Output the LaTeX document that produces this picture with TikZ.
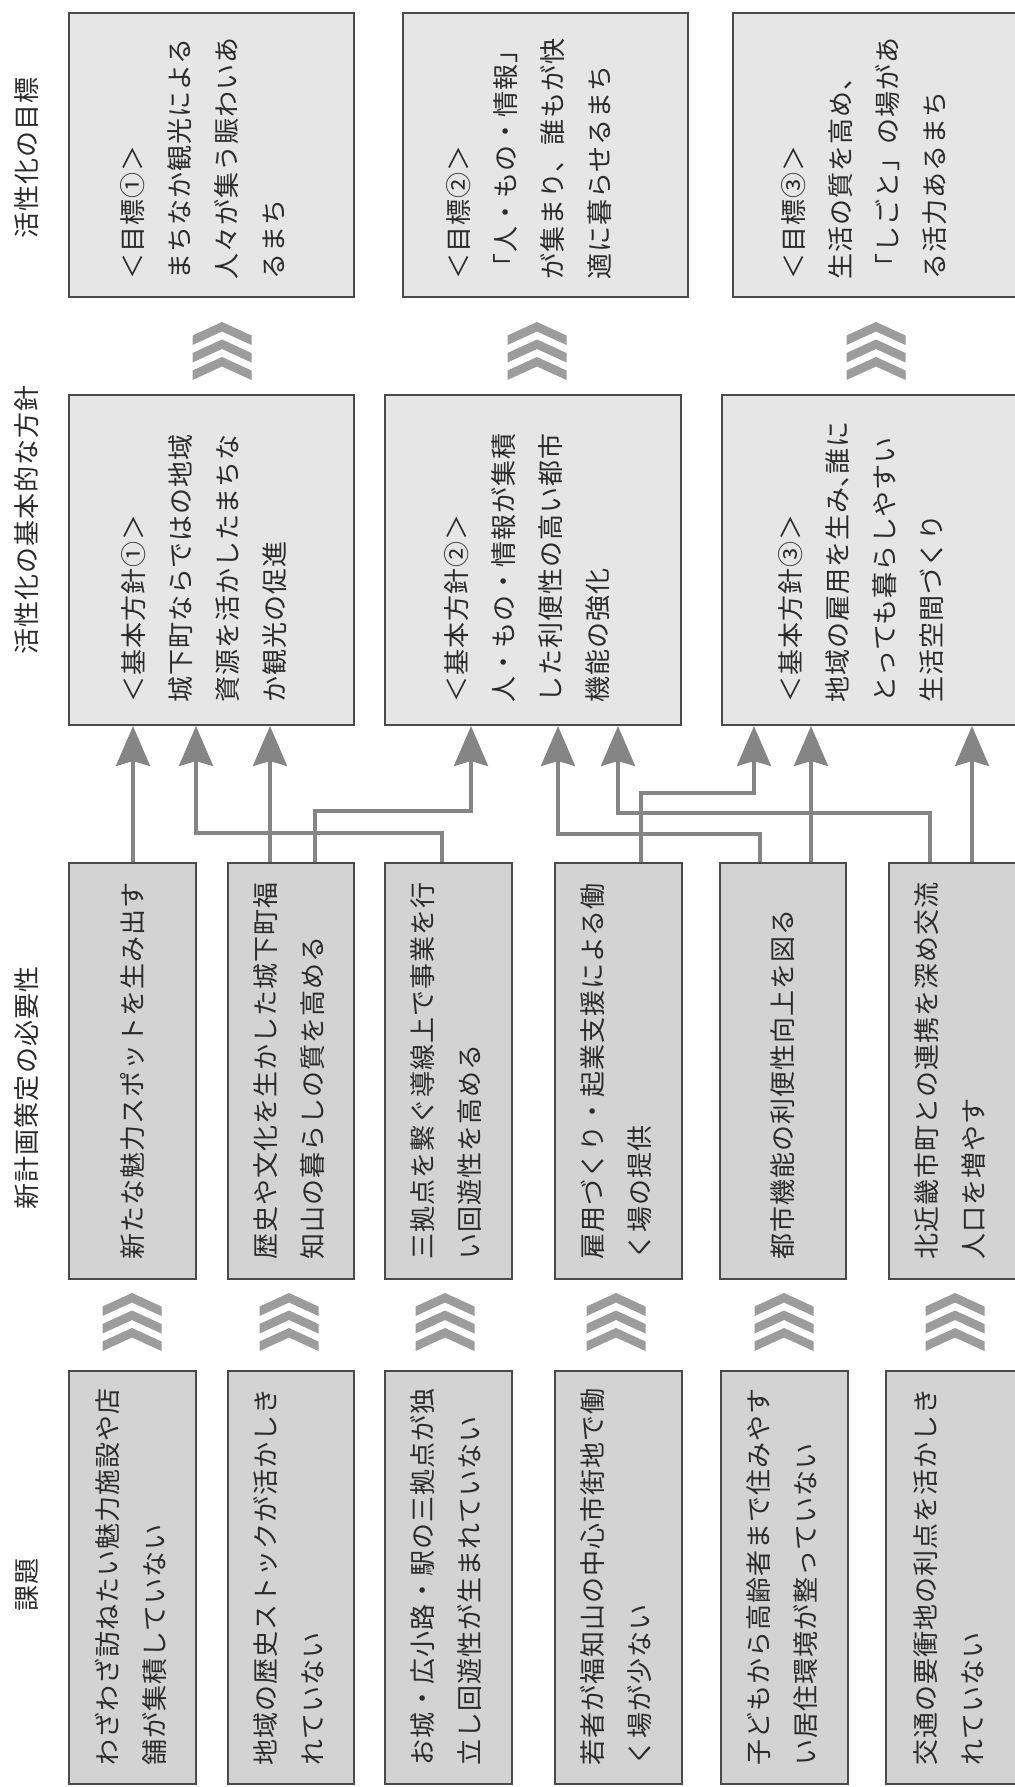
\documentclass[tikz,border=0pt]{standalone}
\usepackage{fontspec}
\usetikzlibrary{arrows.meta}
\newfontfamily\jpfont{Noto Sans CJK JP}[LetterSpace=4]
\definecolor{bordc}{HTML}{4A4A4A}
\definecolor{lightf}{HTML}{E6E6E6}
\definecolor{darkf}{HTML}{D3D3D3}
\definecolor{connc}{HTML}{858585}
\definecolor{chevc}{HTML}{9C9C9C}
\definecolor{textc}{HTML}{2B2B2B}
\tikzset{
  boxA/.style={draw=bordc, line width=2pt, fill=lightf, inner sep=0pt},
  boxB/.style={draw=bordc, line width=2pt, fill=darkf, inner sep=0pt},
  txt/.style={rotate=90, anchor=west, align=left, inner sep=0pt, text=textc,
    font=\jpfont\fontsize{26pt}{47pt}\selectfont},
  hdr/.style={rotate=90, anchor=center, inner sep=0pt, text=textc,
    font=\jpfont\fontsize{26pt}{47pt}\selectfont},
  conn/.style={draw=connc, line width=3.5pt, line join=miter,
    -{Stealth[length=40pt,width=34pt,inset=5pt]}},
  chevs/.pic={
    \foreach \k in {0,1,2}{
      \fill[chevc] (0,\k*17.5) -- (29.5,\k*17.5+13.5) -- (29.5,\k*17.5+23)
        -- (0,\k*17.5+9.5) -- (-29.5,\k*17.5+23) -- (-29.5,\k*17.5+13.5) -- cycle;
    }
  }
}
\begin{document}
\begin{tikzpicture}[x=1pt, y=-1pt]
\useasboundingbox (0,0) rectangle (1014,1787);
\fill[white] (0,0) rectangle (1014,1787);

% headers
\node[hdr] (hG) at (27,158) {活性化の目標};
\node[hdr] (hH) at (27,520) {活性化の基本的な方針};
\node[hdr] (hN) at (27,1088) {新計画策定の必要性};
\node[hdr] (hK) at (27,1585) {課題};

% goal boxes
\node[boxA, minimum width=285pt, minimum height=284pt] (G1) at (211.5,155) {};
\node[boxA, minimum width=285pt, minimum height=284pt] (G2) at (545.5,155) {};
\node[boxA, minimum width=283pt, minimum height=284pt] (G3) at (874.5,155) {};
\node[txt] (gt1) at (203,280) {＜目標①＞\\まちなか観光による\\人々が集う賑わいあ\\るまち};
\node[txt] (gt2) at (529,280) {＜目標②＞\\「人・もの・情報」\\が集まり、誰もが快\\適に暮らせるまち};
\node[txt] (gt3) at (864,280) {＜目標③＞\\生活の質を高め、\\「しごと」の場があ\\る活力あるまち};

% policy boxes
\node[boxA, minimum width=285pt, minimum height=330pt] (H1) at (211.5,560) {};
\node[boxA, minimum width=296pt, minimum height=330pt] (H2) at (533,560) {};
\node[boxA, minimum width=294pt, minimum height=330pt] (H3) at (869,560) {};
\node[txt] (ht1) at (204,703) {＜基本方針①＞\\城下町ならではの地域\\資源を活かしたまちな\\か観光の促進};
\node[txt] (ht2) at (527,703) {＜基本方針②＞\\人・もの・情報が集積\\した利便性の高い都市\\機能の強化};
\node[txt] (ht3) at (861,703) {＜基本方針③＞\\地域の雇用を生み\makebox[13pt][l]{、}誰に\\とっても暮らしやすい\\生活空間づくり};

% chevrons between policy and goal
\pic (cg1) at (222,322) {chevs};
\pic (cg2) at (537,322) {chevs};
\pic (cg3) at (876,322) {chevs};

% necessity boxes
\node[boxB, minimum width=127pt, minimum height=416pt] (N1) at (132.5,1071) {};
\node[boxB, minimum width=126pt, minimum height=416pt] (N2) at (291,1071) {};
\node[boxB, minimum width=127pt, minimum height=416pt] (N3) at (448.5,1071) {};
\node[boxB, minimum width=127pt, minimum height=416pt] (N4) at (618.5,1071) {};
\node[boxB, minimum width=126pt, minimum height=416pt] (N5) at (783,1071) {};
\node[boxB, minimum width=127pt, minimum height=416pt] (N6) at (952.5,1071) {};
\node[txt] (nt1) at (132.5,1260) {新たな魅力スポットを生み出す};
\node[txt] (nt2) at (289,1260) {歴史や文化を生かした城下町福\\知山の暮らしの質を高める};
\node[txt] (nt3) at (446,1260) {三拠点を繋ぐ導線上で事業を行\\い回遊性を高める};
\node[txt] (nt4) at (616,1260) {雇用づくり・起業支援による働\\く場の提供};
\node[txt] (nt5) at (783,1260) {都市機能の利便性向上を図る};
\node[txt] (nt6) at (950,1260) {北近畿市町との連携を深め交流\\人口を増やす};

% issue boxes
\node[boxB, minimum width=127pt, minimum height=413pt] (K1) at (132.5,1577.5) {};
\node[boxB, minimum width=126pt, minimum height=413pt] (K2) at (291,1577.5) {};
\node[boxB, minimum width=127pt, minimum height=413pt] (K3) at (448.5,1577.5) {};
\node[boxB, minimum width=127pt, minimum height=413pt] (K4) at (618.5,1577.5) {};
\node[boxB, minimum width=127pt, minimum height=413pt] (K5) at (784.5,1577.5) {};
\node[boxB, minimum width=130pt, minimum height=413pt] (K6) at (951,1577.5) {};
\node[txt] (kt1) at (131,1766) {わざわざ訪ねたい魅力施設や店\\舗が集積していない};
\node[txt] (kt2) at (289,1766) {地域の歴史ストックが活かしき\\れていない};
\node[txt] (kt3) at (446,1766) {お城・広小路・駅の三拠点が独\\立し回遊性が生まれていない};
\node[txt] (kt4) at (616,1766) {若者が福知山の中心市街地で働\\く場が少ない};
\node[txt] (kt5) at (782,1766) {子どもから高齢者まで住みやす\\い居住環境が整っていない};
\node[txt] (kt6) at (949,1766) {交通の要衝地の利点を活かしき\\れていない};

% chevrons between issues and necessities
\pic (ck1) at (132,1293) {chevs};
\pic (ck2) at (289,1293) {chevs};
\pic (ck3) at (445,1293) {chevs};
\pic (ck4) at (616,1293) {chevs};
\pic (ck5) at (784,1293) {chevs};
\pic (ck6) at (955,1293) {chevs};

% lane coordinates
\coordinate (v133) at (133,0);
\coordinate (v196) at (196,0);
\coordinate (v270) at (270,0);
\coordinate (v315) at (315,0);
\coordinate (v442) at (442,0);
\coordinate (v471) at (471,0);
\coordinate (v558) at (558,0);
\coordinate (v618) at (618,0);
\coordinate (v641) at (641,0);
\coordinate (v754) at (754,0);
\coordinate (v760) at (760,0);
\coordinate (v811) at (811,0);
\coordinate (v930) at (930,0);
\coordinate (v972) at (972,0);
\coordinate (r793) at (0,793);
\coordinate (r811) at (0,811);
\coordinate (r813) at (0,813);
\coordinate (r833) at (0,833);
\coordinate (r834) at (0,834);

% connectors
\draw[conn] (N1.north -| v133) -- (H1.south -| v133);
\draw[conn] (N2.north -| v270) -- (H1.south -| v270);
\draw[conn] (N2.north -| v315) -- (v315 |- r811) -- (v471 |- r811) -- (H2.south -| v471);
\draw[conn] (N3.north -| v442) -- (v442 |- r833) -- (v196 |- r833) -- (H1.south -| v196);
\draw[conn] (N4.north -| v641) -- (v641 |- r793) -- (v754 |- r793) -- (H3.south -| v754);
\draw[conn] (N5.north -| v760) -- (v760 |- r834) -- (v558 |- r834) -- (H2.south -| v558);
\draw[conn] (N5.north -| v811) -- (H3.south -| v811);
\draw[conn] (N6.north -| v930) -- (v930 |- r813) -- (v618 |- r813) -- (H2.south -| v618);
\draw[conn] (N6.north -| v972) -- (H3.south -| v972);
\end{tikzpicture}
\end{document}
